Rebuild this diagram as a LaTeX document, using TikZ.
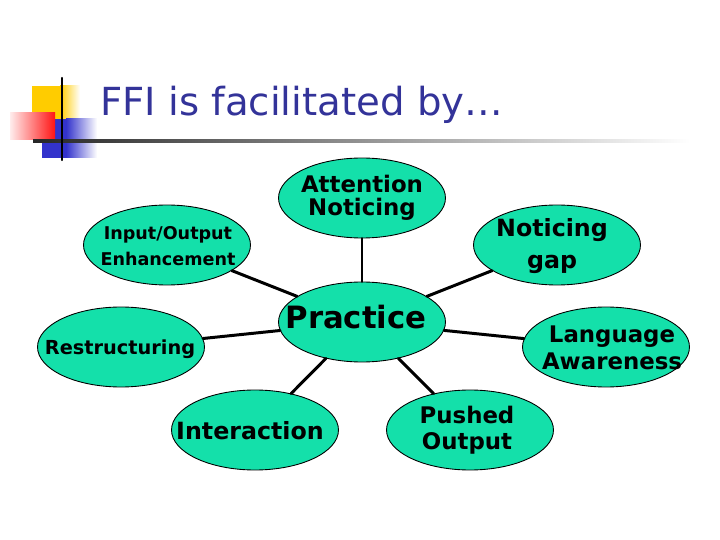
\documentclass[tikz,border=0pt]{standalone}
\usepackage{fontspec}
\setmainfont{DejaVu Sans}
\usetikzlibrary{shapes.geometric}

\definecolor{bubblefill}{RGB}{20,224,170}
\definecolor{titleblue}{RGB}{51,51,153}
\definecolor{sqyellow}{RGB}{255,204,0}
\definecolor{sqblue}{RGB}{51,51,204}
\definecolor{sqred}{RGB}{255,20,20}

\begin{document}
\begin{tikzpicture}[
  x=0.02cm,
  y=-0.02cm,
  line join=round,
  line cap=round,
  bubble/.style={ellipse,draw=black,line width=0.5pt,fill=bubblefill,
    minimum width=3.34cm,minimum height=1.6cm,inner sep=0pt},
  lbl/.style={font=\bfseries\fontsize{13}{15}\selectfont,align=center,inner sep=0pt},
  spoke/.style={draw=black,line width=1.7pt}
]
  \useasboundingbox (0,0) rectangle (720,540);

  % Corner squares and the rule under the title.
  \fill[sqyellow] (32,86) rectangle (60,125);
  \shade[left color=sqyellow,right color=white] (60,86) rectangle (80,125);
  \fill[sqblue] (42,119) rectangle (66,158);
  \shade[left color=sqblue,right color=white] (66,119) rectangle (97,158);
  \shade[left color=sqred!8,right color=sqred] (10,113) rectangle (55,140);
  \shade[left color=black!85,right color=white] (33,140) rectangle (690,143);
  \draw[black,line width=1.3pt] (62,78) -- (62,160);

  \node[anchor=base west,text=titleblue,font=\fontsize{22}{26}\selectfont,inner sep=0pt]
    (title) at (100,116) {FFI is facilitated by…};

  % Hub and its seven bubbles.
  \node[bubble] (prac)  at (362,322) {};
  \node[bubble] (att)   at (362,198) {};
  \node[bubble] (io)    at (167,245) {};
  \node[bubble] (gap)   at (557,245) {};
  \node[bubble] (restr) at (121,347) {};
  \node[bubble] (lang)  at (606,347) {};
  \node[bubble] (inter) at (255,430) {};
  \node[bubble] (push)  at (470,430) {};

  \foreach \n in {att,io,gap,restr,lang,inter,push} {
    \draw[spoke] (prac) -- (\n);
  }

  % Labels.
  \node[lbl,font=\bfseries\fontsize{17.5}{20}\selectfont] (pracT) at (356,317) {Practice};
  \node[lbl,font=\bfseries\fontsize{13}{13}\selectfont] (attT) at (362,198) {Attention\\Noticing};
  \node[lbl,font=\bfseries\fontsize{10}{14.5}\selectfont] (ioT) at (168,246) {Input/Output\\Enhancement};
  \node[lbl,font=\bfseries\fontsize{13.5}{18}\selectfont] (gapT) at (552,246) {Noticing\\gap};
  \node[lbl,font=\bfseries\fontsize{11}{13}\selectfont] (restrT) at (120,349) {Restructuring};
  \node[lbl] (langT) at (612,348) {Language\\Awareness};
  \node[lbl,font=\bfseries\fontsize{13.5}{16}\selectfont] (interT) at (250,431) {Interaction};
  \node[lbl] (pushT) at (467,430) {Pushed\\Output};
\end{tikzpicture}
\end{document}
